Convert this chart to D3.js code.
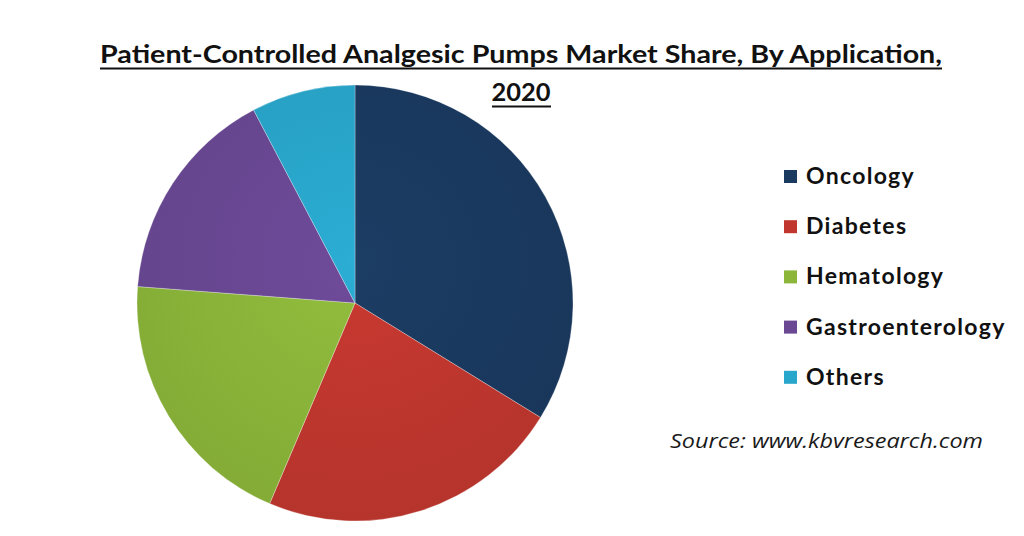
<!DOCTYPE html>
<html><head><meta charset="utf-8">
<script src="https://cdn.jsdelivr.net/npm/d3@7"></script>
<style>html,body{margin:0;padding:0;background:#fff;}svg{display:block;}</style>
</head><body>
<svg id="chart" width="1024" height="536"></svg>
<script>
const categories = ["Oncology", "Diabetes", "Hematology", "Gastroenterology", "Others"];
const shares = [33.8, 22.6, 19.8, 16.1, 7.7];
const colors = ["#1b3a60", "#c1372f", "#8cb63a", "#6a4894", "#29a6cb"];
const titleLines = ["Patient-Controlled Analgesic Pumps Market Share, By Application,", "2020"];
const sourceText = "Source: www.kbvresearch.com";

const svg = d3.select("#chart");
const font = "Lato, 'Open Sans', sans-serif";

const defs = svg.append("defs");
colors.forEach((c, i) => {
  const g = defs.append("radialGradient").attr("id", "g" + i)
    .attr("gradientUnits", "userSpaceOnUse").attr("cx", 0).attr("cy", -40).attr("r", 260);
  g.append("stop").attr("offset", "0%").attr("stop-color", d3.color(c).brighter(0.12));
  g.append("stop").attr("offset", "100%").attr("stop-color", d3.color(c).darker(0.18));
});

// Title
const t = svg.append("g").attr("font-family", font).attr("font-weight", "bold")
  .attr("fill", "#111").attr("text-anchor", "middle").attr("font-size", 25);
t.append("text").attr("x", 521).attr("y", 63).attr("textLength", 842).attr("lengthAdjust", "spacingAndGlyphs").text(titleLines[0]);
t.append("text").attr("x", 521).attr("y", 101).attr("textLength", 59).attr("lengthAdjust", "spacingAndGlyphs").text(titleLines[1]);
svg.append("line").attr("x1", 100).attr("x2", 942).attr("y1", 68.5).attr("y2", 68.5).attr("stroke", "#111").attr("stroke-width", 1.8);
svg.append("line").attr("x1", 492).attr("x2", 551).attr("y1", 106.5).attr("y2", 106.5).attr("stroke", "#111").attr("stroke-width", 1.8);

// Pie
const cx = 355, cy = 303, r = 218;
const pie = d3.pie().sort(null).value(d => d)(shares);
const arc = d3.arc().innerRadius(0).outerRadius(r);
svg.append("g").attr("transform", `translate(${cx},${cy})`)
  .selectAll("path").data(pie).join("path")
  .attr("d", arc)
  .attr("fill", (d, i) => `url(#g${i})`)
  .attr("stroke", "rgba(255,255,255,0.35)").attr("stroke-width", 0.8);

// Legend
const y0 = 176, dy = 50.2;
const leg = svg.append("g");
categories.forEach((c, i) => {
  const y = y0 + i * dy;
  leg.append("rect").attr("x", 784).attr("y", y - 6).attr("width", 13).attr("height", 13).attr("fill", colors[i]);
  leg.append("text").attr("x", 806).attr("y", y + 8).attr("font-family", font).attr("font-weight", "bold")
    .attr("font-size", 23).attr("letter-spacing", 1.3).attr("fill", "#111").text(c);
});

svg.append("text").attr("x", 670).attr("y", 448).attr("font-family", "'Open Sans', sans-serif")
  .attr("font-style", "italic").attr("font-size", 20.5).attr("fill", "#1a1a1a")
  .attr("textLength", 313).attr("lengthAdjust", "spacingAndGlyphs").text(sourceText);
</script>
</body></html>
